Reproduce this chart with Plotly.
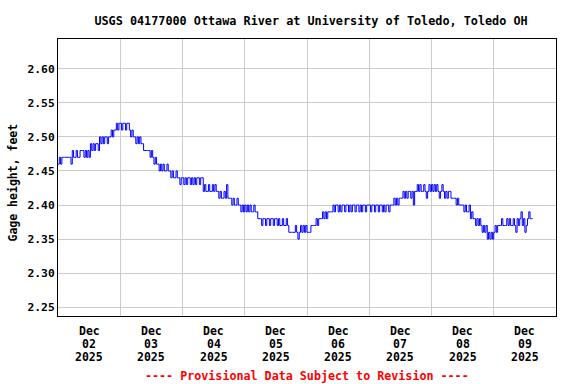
import pandas as pd
import plotly.graph_objects as go

# Gage height in hundredths of a foot above 2.00 ft, 30-minute readings, per day
dec02 = [46,47,46,47,47,47,47,47,47,47,46,48,47,47,48,47,47,48,48,48,47,48,47,48,47,
         49,48,49,48,49,49,48,50,49,50,49,50,50,49,50,50,51,50,51,51,52,51,52]
dec03 = [52,51,52,52,51,52,52,51,50,51,50,50,49,50,49,50,49,49,48,48,48,48,48,47,48,47,
         46,47,46,46,45,46,45,46,45,45,46,45,45,44,45,44,44,45,44,44,43,44]
dec04 = [44,43,44,43,44,44,43,44,43,44,43,44,44,43,44,44,42,43,42,42,43,42,42,43,42,43,
         42,42,41,42,41,41,42,41,43,41,41,41,40,41,40,40,41,40,40,39,40,39]
dec05 = [40,39,40,39,40,39,39,40,39,39,38,38,38,37,38,38,37,38,38,37,38,38,37,38,38,37,
         38,37,37,38,37,37,38,37,36,36,36,36,36,37,36,35,36,37,36,37,36,37]
dec06 = [36,36,36,37,37,37,37,38,37,38,38,38,39,38,39,38,39,39,39,39,40,39,40,40,39,40,
         39,40,40,39,40,40,39,40,39,40,40,39,40,40,39,40,39,40,40,39,40,40]
dec07 = [40,39,40,40,39,40,40,39,40,40,39,40,39,40,40,39,40,40,40,41,40,41,40,41,41,41,
         42,41,42,41,42,42,41,42,40,42,42,43,42,43,42,42,43,42,41,42,43,42]
dec08 = [43,42,43,42,43,42,41,42,43,42,41,42,41,42,42,41,41,41,41,40,41,40,40,40,40,39,
         40,39,39,40,38,39,38,38,37,38,37,38,37,36,37,36,37,35,36,35,36,35]
dec09 = [36,37,36,37,37,37,38,37,37,37,38,37,38,37,37,38,37,36,38,37,38,39,37,38,36,37,
         38,39,38,38,38]

month_label = "Dec"
day_numbers = ["02", "03", "04", "05", "06", "07", "08", "09"]
year_label = "2025"
y_ticks = [2.25, 2.30, 2.35, 2.40, 2.45, 2.50, 2.55, 2.60]

vals = dec02 + dec03 + dec04 + dec05 + dec06 + dec07 + dec08 + dec09
heights = [2.0 + v / 100.0 for v in vals]
times = pd.date_range("2025-12-02 00:00", periods=len(heights), freq="30min")

midnights = pd.date_range("2025-12-02", periods=9, freq="D")
noons = pd.date_range("2025-12-02 12:00", periods=8, freq="D")

FONT = "DejaVu Sans Mono"
TF = dict(family=FONT, size=11.5, color="black", weight="bold")

fig = go.Figure()
fig.add_trace(go.Scatter(x=times, y=heights, mode="lines",
                         line=dict(color="#0000ff", width=1, shape="hv"),
                         hoverinfo="x+y", showlegend=False))

# plot area: x pixels 58..556 (498 wide), y pixels 39..316 (277 tall)
def py(pix):
    return -(pix - 316) / 277.0

def px(pix):
    return (pix - 58) / 498.0

annotations = []
for t, d in zip(noons, day_numbers):
    for txt, pix in ((month_label, 330), (d, 343.5), (year_label, 356)):
        annotations.append(dict(text=txt, x=t, xref="x", y=py(pix), yref="paper",
                                xanchor="center", yanchor="middle", showarrow=False,
                                height=13, borderpad=0, font=TF))
annotations.append(dict(text="---- Provisional Data Subject to Revision ----",
                        xref="paper", yref="paper", x=0.5, y=py(375.5),
                        xanchor="center", yanchor="middle", showarrow=False,
                        font=dict(family=FONT, size=11.7, color="#ff0000", weight="bold")))
annotations.append(dict(text="Gage height, feet", xref="paper", yref="paper",
                        x=px(12.5), y=py(183), textangle=-90,
                        xanchor="center", yanchor="middle", showarrow=False,
                        font=TF))

fig.update_layout(
    width=576, height=384,
    margin=dict(l=58, r=20, t=39, b=68, autoexpand=False),
    paper_bgcolor="white", plot_bgcolor="white",
    font=dict(family=FONT, size=12, color="black", weight="bold"),
    title=dict(text="USGS 04177000 Ottawa River at University of Toledo, Toledo OH",
               x=311 / 576, xanchor="center", xref="container",
               y=1 - 20.5 / 384, yanchor="middle", yref="container",
               font=dict(family=FONT, size=11.8, color="black", weight="bold")),
    annotations=annotations,
)

fig.update_xaxes(
    range=[midnights[0], midnights[-1]],
    tickmode="array", tickvals=midnights, showticklabels=False,
    showgrid=True, gridcolor="#cccccc", gridwidth=1, ticks="", zeroline=False,
    automargin=False,
    showline=True, linecolor="black", linewidth=1, mirror=True,
)
fig.update_yaxes(
    range=[2.2372, 2.6436], automargin=False,
    tickmode="array", tickvals=y_ticks, ticktext=[f"{v:.2f}" for v in y_ticks],
    showgrid=True, gridcolor="#cccccc", gridwidth=1, ticks="", zeroline=False,
    tickfont=dict(family=FONT, size=11.3, color="black", weight="bold"),
    showline=True, linecolor="black", linewidth=1, mirror=True,
)

fig.write_html("out.html", config={"displayModeBar": False},
               post_script="document.body.style.margin='0';document.body.style.overflow='hidden';")
